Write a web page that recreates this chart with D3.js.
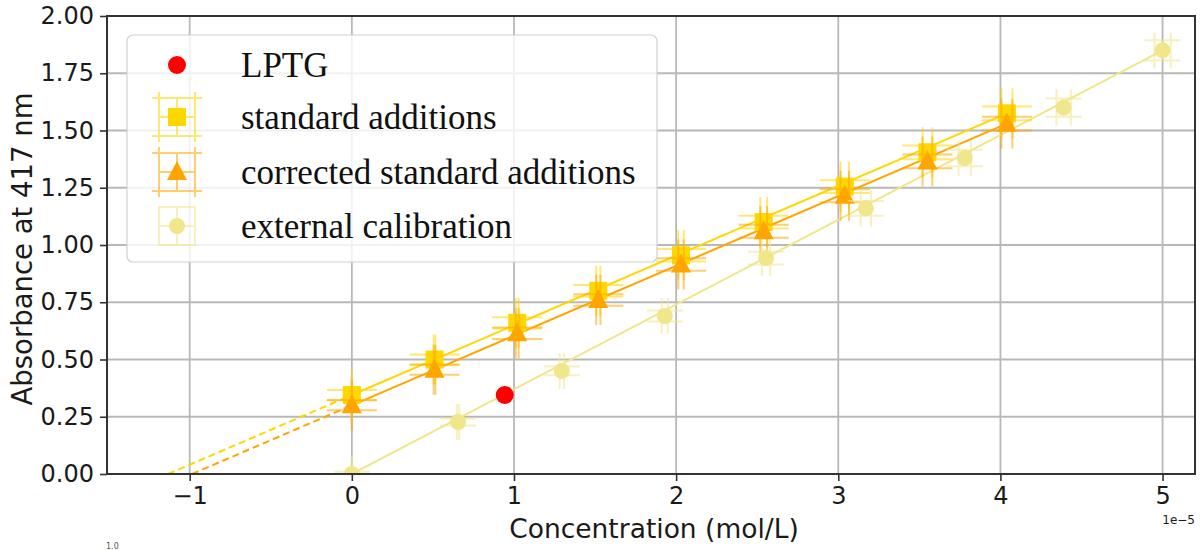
<!DOCTYPE html>
<html lang="en">
<head>
<meta charset="UTF-8">
<title>Absorbance at 417 nm – standard additions vs external calibration</title>
<script src="https://d3js.org/d3.v7.min.js"></script>
<style>
    html, body { margin: 0; padding: 0; background: #fff; }
    svg { display: block; }
</style>
</head>
<body>
<svg width="1200" height="550"></svg>
<script>
// concentrations in mol/L, absorbance at 417 nm
const stdConc    = [0, 0.51e-5, 1.02e-5, 1.52e-5, 2.03e-5, 2.54e-5, 3.04e-5, 3.55e-5, 4.04e-5];
const stdConcErr = [0, 0.005e-5, 0.009e-5, 0.013e-5, 0.017e-5, 0.021e-5, 0.026e-5, 0.030e-5, 0.034e-5];
const stdAbs     = [0.345, 0.50, 0.66, 0.80, 0.955, 1.10, 1.255, 1.405, 1.575];
const stdAbsErr  = [0.022, 0.022, 0.025, 0.025, 0.027, 0.028, 0.028, 0.030, 0.030];
const corrAbs    = [0.30, 0.455, 0.615, 0.76, 0.915, 1.06, 1.215, 1.365, 1.53];
const corrAbsErr = [0.022, 0.022, 0.025, 0.025, 0.027, 0.028, 0.028, 0.030, 0.030];

const extConc    = [0, 0.655e-5, 1.295e-5, 1.93e-5, 2.555e-5, 3.17e-5, 3.78e-5, 4.39e-5, 5.0e-5];
const extConcErr = [0, 0.007e-5, 0.013e-5, 0.019e-5, 0.025e-5, 0.032e-5, 0.038e-5, 0.044e-5, 0.05e-5];
const extAbs     = [0, 0.227, 0.45, 0.69, 0.943, 1.16, 1.38, 1.60, 1.85];
const extAbsErr  = [0.010, 0.015, 0.019, 0.024, 0.028, 0.032, 0.036, 0.040, 0.044];

const lptgConc = [0.943e-5];
const lptgAbs  = [0.345];

// fitted lines, end points
const stdFitX   = [0, 4.04e-5],    stdFitY   = [0.345, 1.575];
const stdExtX   = [-1.133e-5, 0],  stdExtY   = [0, 0.345];
const corrFitX  = [0, 4.04e-5],    corrFitY  = [0.30, 1.53];
const corrExtX  = [-0.985e-5, 0],  corrExtY  = [0, 0.30];
const extFitX   = [0, 5.0e-5],     extFitY   = [0, 1.85];

const xTicks = [-1e-5, 0, 1e-5, 2e-5, 3e-5, 4e-5, 5e-5];
const yTicks = [0, 0.25, 0.5, 0.75, 1.0, 1.25, 1.5, 1.75, 2.0];
const legendLabels = ["LPTG", "standard additions", "corrected standard additions", "external calibration"];

const GOLD = "#ffd700", ORANGE = "#ffa500", KHAKI = "#f0e68c", RED = "#ff0000";

const svg = d3.select("svg");
const pLeft = 107, pRight = 1195, pTop = 16, pBottom = 474;

const x = d3.scaleLinear().domain([-1.51e-5, 5.2e-5]).range([pLeft, pRight]);
const y = d3.scaleLinear().domain([0, 2.0]).range([pBottom, pTop]);

svg.append("defs").append("clipPath").attr("id", "plot")
    .append("rect").attr("x", pLeft).attr("y", pTop)
    .attr("width", pRight - pLeft).attr("height", pBottom - pTop);

// grid
const grid = svg.append("g");
grid.selectAll(".gx").data(xTicks).join("line")
    .attr("x1", d => x(d)).attr("x2", d => x(d))
    .attr("y1", pTop).attr("y2", pBottom)
    .attr("stroke", "#b8b8b8").attr("stroke-width", 1.8);
grid.selectAll(".gy").data(yTicks).join("line")
    .attr("x1", pLeft).attr("x2", pRight)
    .attr("y1", d => y(d)).attr("y2", d => y(d))
    .attr("stroke", "#b8b8b8").attr("stroke-width", 1.8);

const plot = svg.append("g").attr("clip-path", "url(#plot)");

function fitLine(xs, ys, color, dashed) {
    plot.append("line")
        .attr("x1", x(xs[0])).attr("y1", y(ys[0]))
        .attr("x2", x(xs[1])).attr("y2", y(ys[1]))
        .attr("stroke", color).attr("stroke-width", 2)
        .attr("stroke-dasharray", dashed ? "7,4" : null);
}

// draws an errorbar with caps around pixel position (cx, cy)
function errBar(g, cx, cy, ex, ey, cap, color) {
    const e = g.append("g").attr("stroke", color).attr("stroke-width", 2).attr("opacity", 0.55);
    e.append("line").attr("x1", cx - ex).attr("x2", cx + ex).attr("y1", cy).attr("y2", cy);
    e.append("line").attr("x1", cx).attr("x2", cx).attr("y1", cy - ey).attr("y2", cy + ey);
    [-ex, ex].forEach(o => e.append("line")
        .attr("x1", cx + o).attr("x2", cx + o).attr("y1", cy - cap).attr("y2", cy + cap));
    [-ey, ey].forEach(o => e.append("line")
        .attr("x1", cx - cap).attr("x2", cx + cap).attr("y1", cy + o).attr("y2", cy + o));
}

function marker(g, shape, cx, cy, color) {
    if (shape === "square") {
        g.append("rect").attr("x", cx - 9).attr("y", cy - 9).attr("width", 18).attr("height", 18)
            .attr("fill", color);
    } else if (shape === "triangle") {
        g.append("path").attr("d", `M${cx},${cy - 11} L${cx + 10},${cy + 8} L${cx - 10},${cy + 8} Z`)
            .attr("fill", color);
    } else {
        g.append("circle").attr("cx", cx).attr("cy", cy).attr("r", shape === "big" ? 9 : 8)
            .attr("fill", color);
    }
}

function series(xs, xe, ys, ye, cap, color, shape) {
    const g = plot.append("g");
    xs.forEach((v, i) => {
        const cx = x(v), cy = y(ys[i]);
        errBar(g, cx, cy, x(v + xe[i]) - cx, cy - y(ys[i] + ye[i]), cap, color);
    });
    xs.forEach((v, i) => marker(g, shape, x(v), y(ys[i]), color));
}

fitLine(stdFitX, stdFitY, GOLD, false);
fitLine(stdExtX, stdExtY, GOLD, true);
fitLine(corrFitX, corrFitY, ORANGE, false);
fitLine(corrExtX, corrExtY, ORANGE, true);
fitLine(extFitX, extFitY, KHAKI, false);

series(stdConc, stdConcErr, stdAbs, stdAbsErr, 25, GOLD, "square");
series(stdConc, stdConcErr, corrAbs, corrAbsErr, 25, ORANGE, "triangle");
series(extConc, extConcErr, extAbs, extAbsErr, 18, KHAKI, "circle");

plot.selectAll(".lptg").data(lptgConc).join("circle")
    .attr("cx", d => x(d)).attr("cy", (d, i) => y(lptgAbs[i]))
    .attr("r", 9).attr("fill", RED);

// axes
const fmtX = d => d3.format("d")(Math.round(d / 1e-5)).replace("-", "\u2212");
const xAxis = svg.append("g").attr("transform", `translate(0,${pBottom})`)
    .call(d3.axisBottom(x).tickValues(xTicks).tickSize(7).tickPadding(6).tickFormat(fmtX));
const yAxis = svg.append("g").attr("transform", `translate(${pLeft},0)`)
    .call(d3.axisLeft(y).tickValues(yTicks).tickSize(7).tickPadding(6).tickFormat(d3.format(".2f")));
[xAxis, yAxis].forEach(a => {
    a.select(".domain").remove();
    a.selectAll("line").attr("stroke", "#333").attr("stroke-width", 1.6);
    a.selectAll("text").attr("font-family", "DejaVu Sans").attr("font-size", 24).attr("fill", "#1a1a1a");
});

svg.append("rect").attr("x", pLeft).attr("y", pTop)
    .attr("width", pRight - pLeft).attr("height", pBottom - pTop)
    .attr("fill", "none").attr("stroke", "#333").attr("stroke-width", 2);

svg.append("text").attr("x", 654).attr("y", 538).attr("text-anchor", "middle")
    .attr("font-family", "DejaVu Sans").attr("font-size", 26.5).attr("fill", "#1a1a1a")
    .text("Concentration (mol/L)");
svg.append("text").attr("transform", `translate(32,${(pTop + pBottom) / 2 + 4}) rotate(-90)`)
    .attr("text-anchor", "middle")
    .attr("font-family", "DejaVu Sans").attr("font-size", 27.5).attr("fill", "#1a1a1a")
    .text("Absorbance at 417 nm");
svg.append("text").attr("x", pRight).attr("y", 524).attr("text-anchor", "end")
    .attr("font-family", "DejaVu Sans").attr("font-size", 12).attr("fill", "#1a1a1a")
    .text("1e\u22125");
// tiny label left over from the figure underneath
svg.append("text").attr("x", 106).attr("y", 549)
    .attr("font-family", "DejaVu Sans").attr("font-size", 8).attr("fill", "#555")
    .text("1.0");

// legend
const lg = svg.append("g");
lg.append("rect").attr("x", 127).attr("y", 35).attr("width", 530).attr("height", 227)
    .attr("rx", 6).attr("fill", "#fff").attr("fill-opacity", 0.8)
    .attr("stroke", "#d0d0d0").attr("stroke-width", 1.2);
const legY = [65, 117, 172, 226];
const mx = 177;
marker(lg, "big", mx, legY[0], RED);
errBar(lg, mx, legY[1], 18, 19, 25, GOLD);
marker(lg, "square", mx, legY[1], GOLD);
errBar(lg, mx, legY[2], 18, 19, 25, ORANGE);
marker(lg, "triangle", mx, legY[2], ORANGE);
errBar(lg, mx, legY[3], 18, 19, 19, KHAKI);
marker(lg, "circle", mx, legY[3], KHAKI);
lg.selectAll(".lt").data(legendLabels).join("text")
    .attr("x", 241).attr("y", (d, i) => legY[i] + 12)
    .attr("font-family", "Liberation Serif").attr("font-size", 35).attr("fill", "#111")
    .text(d => d);
</script>
</body>
</html>
